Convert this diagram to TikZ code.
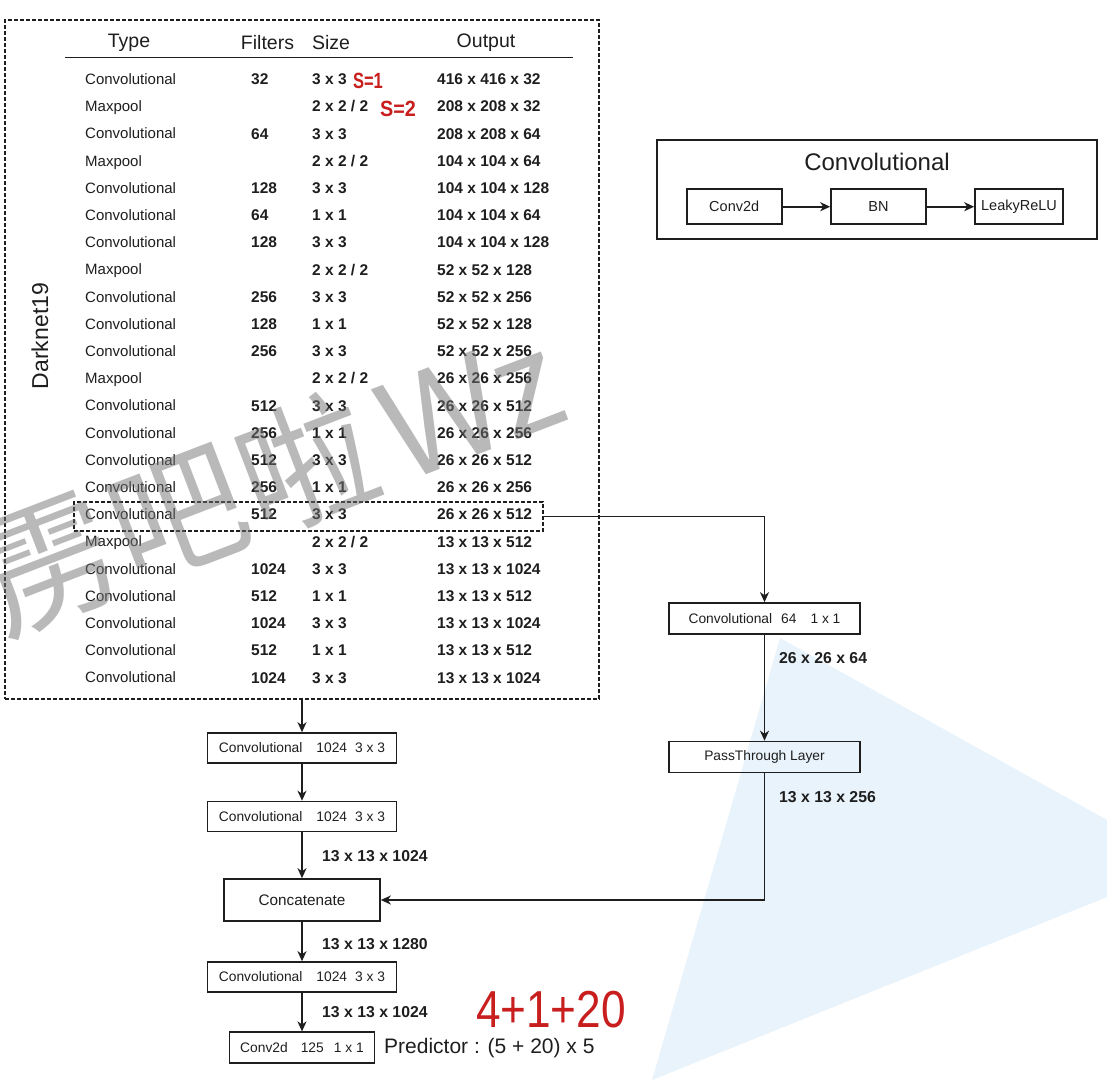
\documentclass[tikz,border=0pt]{standalone}
\usepackage{fontspec}
\usepackage{graphicx}
\setmainfont{Liberation Sans}
\newfontfamily\cjkfont{Noto Sans CJK SC}
\usetikzlibrary{arrows.meta}
\definecolor{ink}{RGB}{30,30,30}
\definecolor{wmblue}{RGB}{232,243,251}
\definecolor{hand}{RGB}{200,30,30}
\newcommand{\fs}[1]{\fontsize{#1}{#1}\selectfont}
\newcommand{\tabrow}[5]{%
  \node[cell] (ty#1) at (85,{79+27.2*#1+5.4}) {#2};
  \node[bcell] (fi#1) at (251,{79+27.2*#1+5.6}) {#3};
  \node[bcell] (si#1) at (312,{79+27.2*#1+5.6}) {#4};
  \node[bcell] (ou#1) at (437,{79+27.2*#1+5.6}) {#5};}
\begin{document}
\begin{tikzpicture}[x=1pt,y=-1pt,
  box/.style={draw=ink, line width=1.6pt, inner sep=0pt, text=ink, font=\fs{13.8}},
  arr/.style={draw=ink, line width=1.6pt, -{Stealth[length=10pt,width=9pt,inset=3pt]}},
  lbl/.style={text=ink, font=\bfseries\fs{15.8}, anchor=west, inner sep=0pt},
  cell/.style={text=ink, inner sep=0pt, anchor=base west, font=\fs{15}},
  bcell/.style={cell, font=\bfseries\fs{15.5}},
  hdr/.style={text=ink, inner sep=0pt, font=\fs{19.5}},
  dashbox/.style={draw=ink, line width=1.4pt, dash pattern=on 4pt off 2pt, inner sep=0pt},
  handtxt/.style={text=hand, inner sep=0pt},
  wm/.style={rotate=21, text=black!55, opacity=0.5, font=\cjkfont\fs{135}, inner sep=0pt}]
\useasboundingbox (0,0) rectangle (1107,1080);
\fill[wmblue] (780,638) -- (1107,820) -- (1107,897) -- (652,1080) -- cycle;

% Darknet19 table
\node[dashbox, minimum width=594pt, minimum height=679pt] (darknet) at (302,359.5) {};
\node[hdr] (hType) at (129,43) {Type};
\node[hdr] (hFil) at (267.5,43) {Filters};
\node[hdr] (hSize) at (331,43) {Size};
\node[hdr] (hOut) at (486,43) {Output};
\draw[ink, line width=1.6pt] (65,57.5) -- (573,57.5);
\node[rotate=90, text=ink, font=\fs{23}, inner sep=0pt] (dn) at (40,336) {Darknet19};

\tabrow{0}{Convolutional}{32}{3 x 3}{416 x 416 x 32}
\tabrow{1}{Maxpool}{}{2 x 2 / 2}{208 x 208 x 32}
\tabrow{2}{Convolutional}{64}{3 x 3}{208 x 208 x 64}
\tabrow{3}{Maxpool}{}{2 x 2 / 2}{104 x 104 x 64}
\tabrow{4}{Convolutional}{128}{3 x 3}{104 x 104 x 128}
\tabrow{5}{Convolutional}{64}{1 x 1}{104 x 104 x 64}
\tabrow{6}{Convolutional}{128}{3 x 3}{104 x 104 x 128}
\tabrow{7}{Maxpool}{}{2 x 2 / 2}{52 x 52 x 128}
\tabrow{8}{Convolutional}{256}{3 x 3}{52 x 52 x 256}
\tabrow{9}{Convolutional}{128}{1 x 1}{52 x 52 x 128}
\tabrow{10}{Convolutional}{256}{3 x 3}{52 x 52 x 256}
\tabrow{11}{Maxpool}{}{2 x 2 / 2}{26 x 26 x 256}
\tabrow{12}{Convolutional}{512}{3 x 3}{26 x 26 x 512}
\tabrow{13}{Convolutional}{256}{1 x 1}{26 x 26 x 256}
\tabrow{14}{Convolutional}{512}{3 x 3}{26 x 26 x 512}
\tabrow{15}{Convolutional}{256}{1 x 1}{26 x 26 x 256}
\tabrow{16}{Convolutional}{512}{3 x 3}{26 x 26 x 512}
\tabrow{17}{Maxpool}{}{2 x 2 / 2}{13 x 13 x 512}
\tabrow{18}{Convolutional}{1024}{3 x 3}{13 x 13 x 1024}
\tabrow{19}{Convolutional}{512}{1 x 1}{13 x 13 x 512}
\tabrow{20}{Convolutional}{1024}{3 x 3}{13 x 13 x 1024}
\tabrow{21}{Convolutional}{512}{1 x 1}{13 x 13 x 512}
\tabrow{22}{Convolutional}{1024}{3 x 3}{13 x 13 x 1024}

\node[dashbox, minimum width=469pt, minimum height=29pt] (hl) at (308.5,516.5) {};

% left column
\node[box, minimum width=189pt, minimum height=30pt] (c1) at (302,748) {Convolutional\hspace{14pt}1024\hspace{8pt}3 x 3};
\node[box, minimum width=189pt, minimum height=30pt] (c2) at (302,816.5) {Convolutional\hspace{14pt}1024\hspace{8pt}3 x 3};
\node[box, minimum width=156pt, minimum height=42pt, font=\fs{15.3}] (concat) at (302,900) {Concatenate};
\node[box, minimum width=189pt, minimum height=30pt] (c3) at (302,977) {Convolutional\hspace{14pt}1024\hspace{8pt}3 x 3};
\node[box, minimum width=145pt, minimum height=31pt] (c4) at (302,1047.7) {Conv2d\hspace{13pt}125\hspace{10pt}1 x 1};
\node[text=ink, font=\fs{21}, anchor=west, inner sep=0pt] (pred) at (384,1048) {Predictor : (5 + 20) x 5};

\draw[arr] (darknet.south) -- (c1.north);
\draw[arr] (c1) -- (c2);
\draw[arr] (c2) -- (concat);
\draw[arr] (concat) -- (c3);
\draw[arr] (c3) -- (c4);
\node[lbl] (l3) at (322,856) {13 x 13 x 1024};
\node[lbl] (l4) at (322,944) {13 x 13 x 1280};
\node[lbl] (l5) at (322,1011.7) {13 x 13 x 1024};

% right column
\node[box, minimum width=191pt, minimum height=31pt] (cp) at (764.5,618.5) {Convolutional\hspace{9pt}64\hspace{14pt}1 x 1};
\node[box, minimum width=191pt, minimum height=31pt] (pt) at (764.5,757) {PassThrough Layer};
\draw[arr] (hl.east) -| (cp.north);
\draw[arr] (cp) -- (pt);
\draw[arr] (pt.south) |- (concat.east);
\node[lbl] (l1) at (779,658) {26 x 26 x 64};
\node[lbl] (l2) at (779,797) {13 x 13 x 256};

% legend
\node[draw=ink, line width=1.6pt, minimum width=440pt, minimum height=99pt, inner sep=0pt] (legend) at (877,189.7) {};
\node[text=ink, font=\fs{24}, inner sep=0pt] (ltitle) at (877,161.7) {Convolutional};
\node[box, minimum width=95pt, minimum height=35pt, font=\fs{14.5}] (lc) at (734.2,206.7) {Conv2d};
\node[box, minimum width=95pt, minimum height=35pt, font=\fs{14.5}] (lb) at (878.5,206.7) {BN};
\node[box, minimum width=88pt, minimum height=35pt, font=\fs{14.5}] (ll) at (1019,206.7) {LeakyReLU};
\draw[arr] (lc) -- (lb);
\draw[arr] (lb) -- (ll);

% handwritten notes
\node[handtxt, font=\bfseries\fs{22}] (s1) at (368,81) {\scalebox{0.75}[1]{S=1}};
\node[handtxt, font=\bfseries\fs{22}] (s2) at (398,109) {\scalebox{0.9}[1]{S=2}};
\node[handtxt, font=\fs{52}] (h3) at (551,1010) {\scalebox{0.85}[1]{4+1+20}};

% watermark
\node[wm] (wm1) at (49,564) {雳};
\node[wm] (wm2) at (178,515) {吧};
\node[wm] (wm3) at (306,463) {啦};
\node[wm] (wm4) at (470,405) {Wz};
\end{tikzpicture}
\end{document}
